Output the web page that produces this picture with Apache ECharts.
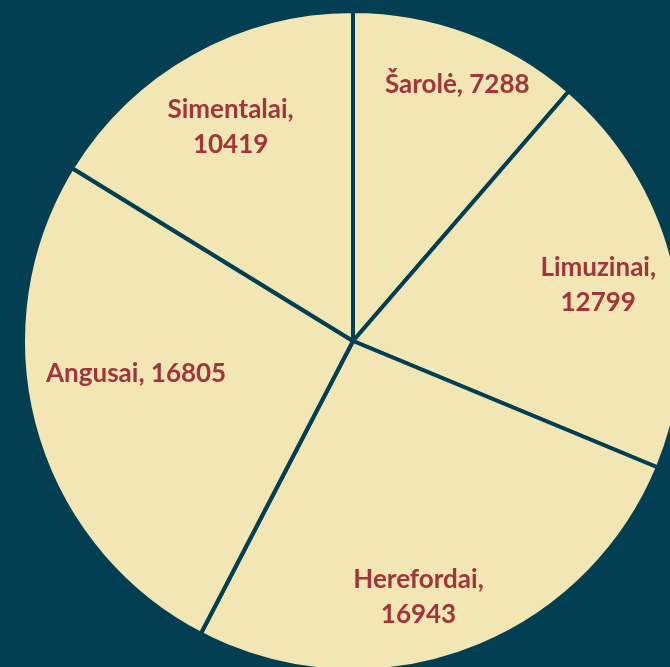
<!DOCTYPE html>
<html>
<head>
<meta charset="utf-8">
<script src="https://cdn.jsdelivr.net/npm/echarts@6/dist/echarts.min.js"></script>
<style>
  html, body { margin: 0; padding: 0; background: #023f52; }
  #chart { width: 670px; height: 667px; }
</style>
</head>
<body>
<div id="chart"></div>
<script>
// breeds, clockwise from 12 o'clock
var breeds = ['Šarolė', 'Limuzinai', 'Herefordai', 'Angusai', 'Simentalai'];
var counts = [7288, 12799, 16943, 16805, 10419];
// labels that wrap onto two lines
var wrapped = [false, true, true, false, true];

// small hand nudges so labels sit where the original put them
var labelNudge = [[16, -19], [-1, 2], [-21, 18], [27, -35], [1, 7]];

var chart = echarts.init(document.getElementById('chart'));

var pieData = breeds.map(function (name, i) {
    return { name: name, value: counts[i] };
});

var option = {
    backgroundColor: '#023f52',
    animation: false,
    series: [
        {
            type: 'pie',
            center: [353, 341],
            radius: [0, 330],
            startAngle: 90,
            clockwise: true,
            sort: null,
            silent: true,
            itemStyle: {
                color: '#f2e6b4',
                borderColor: '#023f52',
                borderWidth: 4
            },
            label: { show: false },
            labelLine: { show: false },
            data: pieData
        },
        {
            // label ring only
            type: 'pie',
            center: [353, 341],
            radius: [170, 330],
            startAngle: 90,
            clockwise: true,
            sort: null,
            silent: true,
            itemStyle: { color: 'rgba(0,0,0,0)', borderWidth: 0 },
            label: {
                show: true,
                position: 'inside',
                color: '#a2343b',
                fontFamily: 'Lato',
                fontWeight: 'bold',
                fontSize: 26,
                lineHeight: 35,
                formatter: function (p) {
                    return p.name + (wrapped[p.dataIndex] ? ',\n' : ', ') + p.value;
                }
            },
            labelLayout: function (p) {
                var n = labelNudge[p.dataIndex];
                return { dx: n[0], dy: n[1] };
            },
            labelLine: { show: false },
            data: pieData
        }
    ]
};

chart.setOption(option);
</script>
</body>
</html>
